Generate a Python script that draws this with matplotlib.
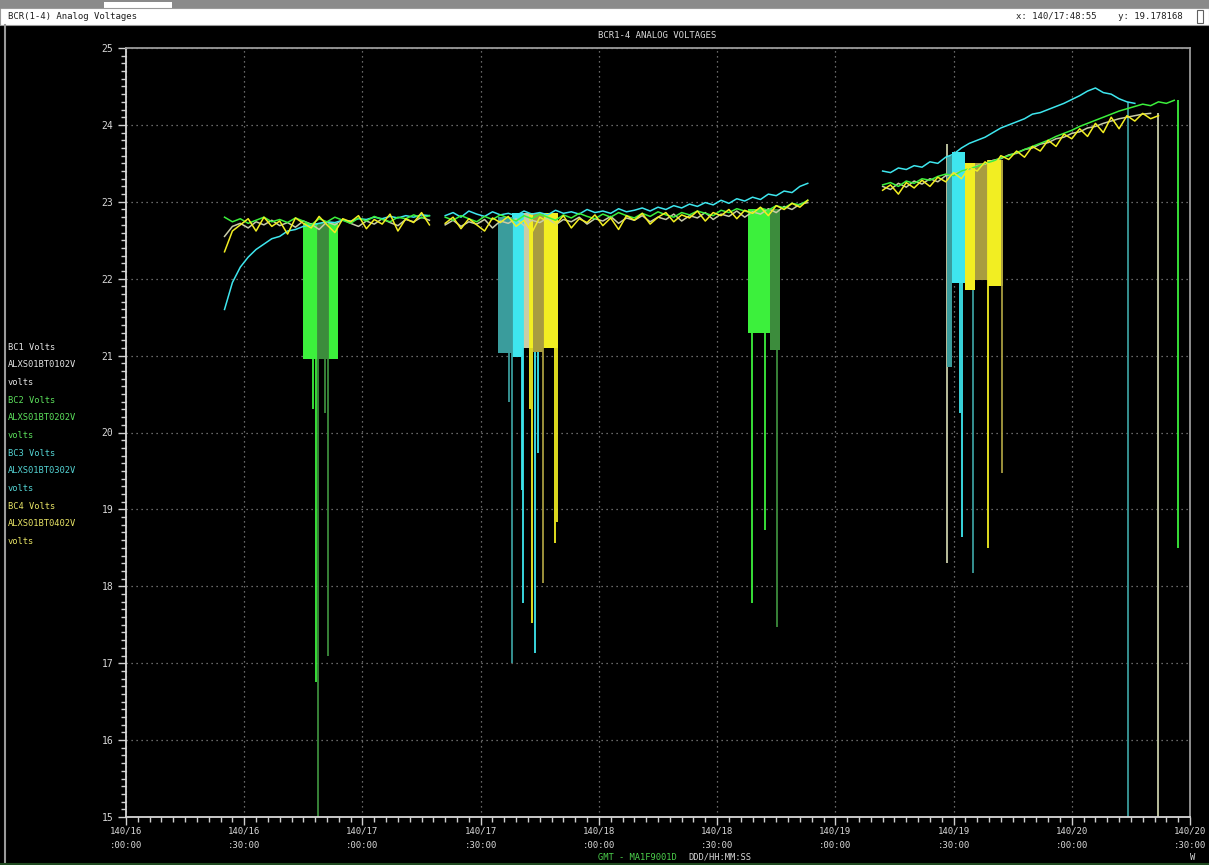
import matplotlib.pyplot as plt
from matplotlib.patches import Rectangle
from matplotlib.lines import Line2D
from matplotlib.ticker import MultipleLocator

# minutes after 140/16:00:00
x_ticks = [0, 30, 60, 90, 120, 150, 180, 210, 240, 270]
x_labels = ["140/16\n:00:00", "140/16\n:30:00", "140/17\n:00:00", "140/17\n:30:00",
            "140/18\n:00:00", "140/18\n:30:00", "140/19\n:00:00", "140/19\n:30:00",
            "140/20\n:00:00", "140/20\n:30:00"]

seg1_t = list(range(25, 78, 2))
seg2_t = list(range(81, 174, 2))
seg3_t = list(range(192, 267, 2))
nan = float("nan")

# BC1 (ALXS01BT0102V)
bc1_seg1 = [22.55, 22.68, 22.72, 22.66, 22.74, 22.70, 22.76, 22.69, 22.73, 22.67,
            22.75, 22.71, 22.64, 22.74, 22.70, 22.77, 22.72, 22.68, 22.75, 22.71,
            22.78, 22.73, 22.69, 22.77, 22.74, 22.80, 22.76]
bc1_seg2 = [22.70, 22.76, 22.68, 22.74, 22.71, 22.77, 22.66, 22.75, 22.72, 22.78,
            22.69, 22.76, 22.73, 22.79, 22.70, 22.77, 22.74, 22.80, 22.71, 22.78,
            22.75, 22.81, 22.72, 22.79, 22.76, 22.82, 22.74, 22.80, 22.77, 22.84,
            22.75, 22.82, 22.79, 22.86, 22.77, 22.84, 22.81, 22.88, 22.80, 22.87,
            22.84, 22.91, 22.86, 22.94, 22.90, 22.97, 22.99]
bc1_seg3 = [23.20, 23.16, 23.24, 23.19, 23.27, 23.23, 23.30, 23.26, 23.34, 23.36,
            23.40, 23.42, 23.47, 23.49, 23.54, 23.56, 23.61, 23.63, 23.68, 23.70,
            23.75, 23.77, 23.82, 23.84, 23.89, 23.91, 23.96, 23.98, 24.02, 24.05,
            24.08, 24.10, 24.12, 24.14, 24.15, nan, nan, nan]

# BC2 (ALXS01BT0202V)
bc2_seg1 = [22.80, 22.74, 22.78, 22.72, 22.76, 22.80, 22.74, 22.77, 22.73, 22.79,
            22.75, 22.70, 22.78, 22.74, 22.80, 22.76, 22.72, 22.79, 22.75, 22.81,
            22.77, 22.74, 22.80, 22.78, 22.83, 22.79, 22.82]
bc2_seg2 = [22.80, 22.76, 22.82, 22.78, 22.74, 22.81, 22.77, 22.83, 22.79, 22.75,
            22.82, 22.78, 22.84, 22.80, 22.76, 22.83, 22.79, 22.85, 22.81, 22.78,
            22.84, 22.80, 22.86, 22.82, 22.79, 22.85, 22.81, 22.87, 22.83, 22.80,
            22.86, 22.83, 22.88, 22.85, 22.82, 22.89, 22.86, 22.91, 22.88, 22.85,
            22.92, 22.89, 22.95, 22.92, 22.98, 22.96, 23.02]
bc2_seg3 = [23.22, 23.25, 23.20, 23.27, 23.24, 23.30, 23.28, 23.33, 23.36, 23.34,
            23.40, 23.43, 23.46, 23.50, 23.53, 23.57, 23.60, 23.64, 23.68, 23.72,
            23.76, 23.80, 23.85, 23.89, 23.93, 23.98, 24.02, 24.06, 24.10, 24.14,
            24.18, 24.21, 24.24, 24.27, 24.25, 24.30, 24.28, 24.32]

# BC3 (ALXS01BT0302V)
bc3_seg1 = [21.60, 21.95, 22.15, 22.28, 22.38, 22.45, 22.52, 22.55, 22.62, 22.64,
            22.68, 22.70, 22.72, 22.74, 22.73, 22.76, 22.75, 22.78, 22.77, 22.80,
            22.78, 22.81, 22.79, 22.82, 22.80, 22.83, 22.82]
bc3_seg2 = [22.82, 22.86, 22.80, 22.88, 22.84, 22.81, 22.87, 22.83, 22.85, 22.82,
            22.88, 22.84, 22.86, 22.83, 22.89, 22.85, 22.87, 22.84, 22.90, 22.86,
            22.88, 22.85, 22.91, 22.87, 22.89, 22.92, 22.88, 22.93, 22.90, 22.95,
            22.92, 22.97, 22.94, 22.99, 22.96, 23.02, 22.98, 23.04, 23.01, 23.06,
            23.03, 23.10, 23.08, 23.14, 23.12, 23.20, 23.24]
bc3_seg3 = [23.40, 23.38, 23.44, 23.42, 23.47, 23.45, 23.52, 23.50, 23.58, 23.62,
            23.70, 23.76, 23.80, 23.84, 23.90, 23.96, 24.00, 24.04, 24.08, 24.14,
            24.16, 24.20, 24.24, 24.28, 24.33, 24.38, 24.44, 24.48, 24.42, 24.40,
            24.34, 24.30, 24.28, nan, nan, nan, nan, nan]

# BC4 (ALXS01BT0402V)
bc4_seg1 = [22.35, 22.62, 22.70, 22.78, 22.62, 22.80, 22.68, 22.75, 22.58, 22.79,
            22.72, 22.66, 22.81, 22.70, 22.60, 22.78, 22.74, 22.82, 22.65, 22.77,
            22.71, 22.84, 22.62, 22.78, 22.73, 22.86, 22.70]
bc4_seg2 = [22.72, 22.80, 22.65, 22.78, 22.70, 22.62, 22.79, 22.73, 22.81, 22.68,
            22.76, 22.60, 22.80, 22.74, 22.70, 22.82, 22.66, 22.78, 22.73, 22.83,
            22.69, 22.79, 22.64, 22.82, 22.76, 22.85, 22.71, 22.80, 22.86, 22.74,
            22.83, 22.79, 22.88, 22.75, 22.86, 22.82, 22.90, 22.78, 22.89, 22.85,
            22.93, 22.82, 22.95, 22.90, 22.98, 22.93, 23.02]
bc4_seg3 = [23.15, 23.22, 23.10, 23.25, 23.18, 23.28, 23.20, 23.32, 23.26, 23.38,
            23.30, 23.45, 23.40, 23.52, 23.45, 23.60, 23.55, 23.66, 23.58, 23.72,
            23.66, 23.80, 23.72, 23.88, 23.82, 23.95, 23.85, 24.02, 23.90, 24.10,
            23.95, 24.12, 24.05, 24.15, 24.08, 24.12, nan, nan]

# dropout blocks (t_start, t_end, top, low) and spikes (t, top, low)
bc1_blocks = [(100.5, 102.5, 22.85, 21.10)]
bc1_spikes = [(208.4, 23.75, 18.30), (261.9, 24.15, 15.00)]

bc2_blocks = [(44.9, 48.7, 22.72, 20.95), (51.3, 53.8, 22.72, 20.95),
              (157.9, 163.4, 22.90, 21.30)]
bc2_dim_blocks = [(48.7, 51.3, 22.72, 20.95), (163.4, 166.0, 22.90, 21.07)]
bc2_spikes = [(48.2, 22.7, 16.75), (47.5, 22.7, 20.30), (158.9, 22.9, 17.78),
              (162.2, 22.9, 18.73), (267.0, 24.32, 18.50)]
bc2_dim_spikes = [(48.7, 22.7, 15.00), (51.3, 22.7, 17.10), (50.5, 22.7, 20.25),
                  (165.2, 22.9, 17.47)]

bc3_blocks = [(98.0, 100.5, 22.85, 20.98), (209.6, 212.9, 23.65, 21.95)]
bc3_dim_blocks = [(94.4, 98.0, 22.80, 21.03), (208.4, 209.6, 23.60, 20.85)]
bc3_spikes = [(100.8, 22.85, 17.78), (103.8, 22.85, 17.13), (100.5, 22.85, 19.25),
              (104.6, 22.85, 19.73), (212.2, 23.65, 18.64), (211.7, 23.65, 20.25)]
bc3_dim_spikes = [(98.0, 22.8, 17.00), (97.2, 22.8, 20.40), (215.0, 23.5, 18.17),
                  (254.3, 24.30, 15.00)]

bc4_blocks = [(105.8, 109.6, 22.85, 21.10), (102.5, 103.3, 22.85, 21.10),
              (212.9, 215.5, 23.50, 21.85), (218.8, 222.6, 23.55, 21.90)]
bc4_dim_blocks = [(103.3, 105.8, 22.85, 21.05), (215.5, 218.8, 23.50, 21.98)]
bc4_spikes = [(103.0, 22.85, 17.52), (108.9, 22.85, 18.56), (102.5, 22.85, 20.30),
              (109.4, 22.85, 18.83), (218.8, 23.55, 18.50)]
bc4_dim_spikes = [(105.8, 22.85, 18.04), (222.3, 23.55, 19.47)]

legend_lines = [
    ["BC1 Volts", "ALXS01BT0102V", "volts"],
    ["BC2 Volts", "ALXS01BT0202V", "volts"],
    ["BC3 Volts", "ALXS01BT0302V", "volts"],
    ["BC4 Volts", "ALXS01BT0402V", "volts"],
]

mono = "DejaVu Sans Mono"
W, H = 1209, 865

fig = plt.figure(figsize=(W / 100, H / 100), dpi=100, facecolor="black")
ax = fig.add_axes([126 / W, 1 - 817 / H, 1064 / W, 769 / H], facecolor="black")

colors = {"bc1": "#c8cca8", "bc2": "#3cf03c", "bc3": "#3ee6ee", "bc4": "#f2ee22"}
dims = {"bc1": "#a8a890", "bc2": "#3c8c3c", "bc3": "#3a9c9c", "bc4": "#a89c40"}
series = {
    "bc1": (bc1_seg1, bc1_seg2, bc1_seg3, bc1_blocks, [], bc1_spikes, []),
    "bc3": (bc3_seg1, bc3_seg2, bc3_seg3, bc3_blocks, bc3_dim_blocks, bc3_spikes, bc3_dim_spikes),
    "bc2": (bc2_seg1, bc2_seg2, bc2_seg3, bc2_blocks, bc2_dim_blocks, bc2_spikes, bc2_dim_spikes),
    "bc4": (bc4_seg1, bc4_seg2, bc4_seg3, bc4_blocks, bc4_dim_blocks, bc4_spikes, bc4_dim_spikes),
}

for key, (s1, s2, s3, blocks, dblocks, spikes, dspikes) in series.items():
    c = colors[key]
    d = dims[key]
    for tt, vv in [(seg1_t, s1), (seg2_t, s2), (seg3_t, s3)]:
        ax.plot(tt, vv, color=c, lw=1.1, zorder=3)
    for blist, col in [(dblocks, d), (blocks, c)]:
        for t0, t1, top, low in blist:
            ax.bar(t0, top - low, width=t1 - t0, bottom=low, align="edge",
                   color=col, linewidth=0, zorder=2)
    for slist, col in [(dspikes, d), (spikes, c)]:
        for t, top, low in slist:
            ax.vlines(t, low, top, color=col, lw=1.3, zorder=2)

ax.set_xlim(0, 270)
ax.set_ylim(15, 25)
ax.set_xticks(x_ticks)
ax.set_xticklabels(x_labels, fontsize=6.5, family=mono, color="#d8d8d8", linespacing=1.7)
ax.set_yticks(range(15, 26))
ax.set_yticklabels([str(v) for v in range(15, 26)], fontsize=7, family=mono, color="#d8d8d8")
ax.xaxis.set_minor_locator(MultipleLocator(3))
ax.yaxis.set_minor_locator(MultipleLocator(0.1))
ax.tick_params(which="major", color="#d0d0d0", length=6, width=1, direction="out", pad=3)
ax.tick_params(axis="x", which="major", pad=1)
ax.tick_params(which="minor", color="#d0d0d0", length=3.5, width=1, direction="out")
ax.grid(True, which="major", color="#8a8a8a", linestyle=(0, (1, 3)), lw=0.9)
for side in ["left", "bottom"]:
    ax.spines[side].set_color("#d8d8d8")
    ax.spines[side].set_linewidth(1.3)
for side in ["top", "right"]:
    ax.spines[side].set_color("#9a9a9a")
    ax.spines[side].set_linewidth(1.3)

# window chrome
fig.add_artist(Rectangle((0, 1 - 8 / H), 1, 8 / H, transform=fig.transFigure,
                         facecolor="#8a8a8a", edgecolor="none"))
fig.add_artist(Rectangle((104 / W, 1 - 8 / H), 68 / W, 6 / H, transform=fig.transFigure,
                         facecolor="white", edgecolor="none"))
fig.add_artist(Rectangle((0, 1 - 25 / H), 1, 17 / H, transform=fig.transFigure,
                         facecolor="white", edgecolor="#9a9a9a", lw=0.8))
fig.add_artist(Rectangle((1197 / W, 1 - 23 / H), 6 / W, 13 / H, transform=fig.transFigure,
                         facecolor="white", edgecolor="#606060", lw=0.8))
fig.add_artist(Line2D([5 / W, 5 / W], [0, 1 - 25 / H], transform=fig.transFigure,
                      color="#9a9a9a", lw=1.5))
fig.add_artist(Line2D([0, 1], [1 / H, 1 / H], transform=fig.transFigure,
                      color="#1f4a1f", lw=1.5))

fig.text(8 / W, 1 - 16.5 / H, "BCR(1-4) Analog Voltages", fontsize=6.5, family=mono,
         color="#202020", va="center")
fig.text(1183 / W, 1 - 16.5 / H, "x: 140/17:48:55    y: 19.178168", fontsize=6.5,
         family=mono, color="#202020", va="center", ha="right")
fig.text(657 / W, 1 - 36 / H, "BCR1-4 ANALOG VOLTAGES", fontsize=6.5, family=mono,
         color="#d8d8d8", ha="center", va="center")

legend_colors = ["#e4e4e4", "#5ce05c", "#54d4d4", "#e8e466"]
y0 = 347
for i, (lines, col) in enumerate(zip(legend_lines, legend_colors)):
    for j, txt in enumerate(lines):
        fig.text(8 / W, 1 - (y0 + (i * 3 + j) * 17.7) / H, txt, fontsize=6.3,
                 family=mono, color=col, va="center")

fig.text(598 / W, 1 - 857 / H, "GMT - MA1F9001D", fontsize=6.3, family=mono,
         color="#4cd04c", va="center")
fig.text(688 / W, 1 - 857 / H, "DDD/HH:MM:SS", fontsize=6.3, family=mono,
         color="#d8d8d8", va="center")
fig.text(1190 / W, 1 - 857 / H, "W", fontsize=6.3, family=mono,
         color="#d8d8d8", va="center")

fig.savefig("out.png", dpi=100, facecolor="black")
